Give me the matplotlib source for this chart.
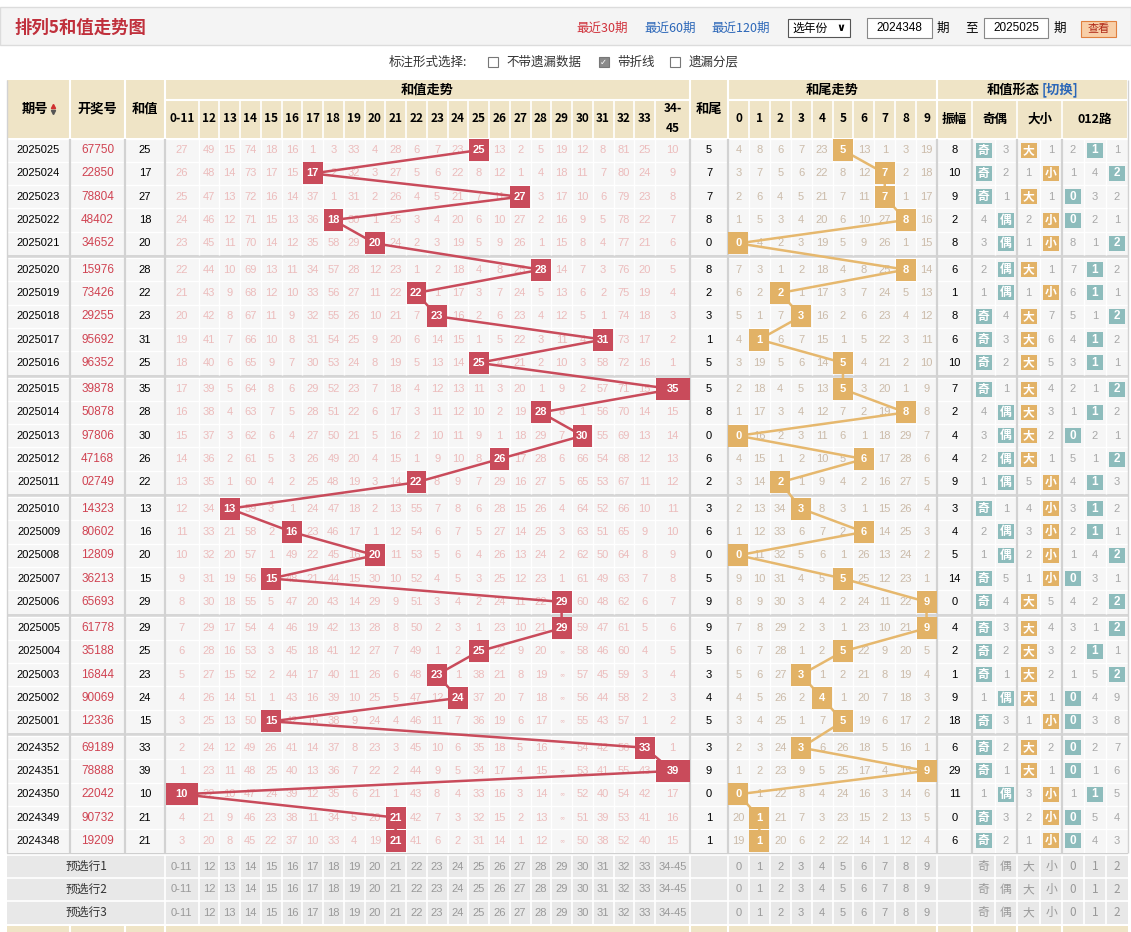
import matplotlib.pyplot as plt
from matplotlib.patches import Rectangle

plt.rcParams['font.family'] = ['Liberation Sans', 'Noto Sans CJK SC', 'DejaVu Sans']
CJK = ['Noto Sans CJK SC', 'DejaVu Sans']

# ---------------- data (newest first) ----------------
periods = ['2025025', '2025024', '2025023', '2025022', '2025021', '2025020', '2025019', '2025018',
           '2025017', '2025016', '2025015', '2025014', '2025013', '2025012', '2025011', '2025010',
           '2025009', '2025008', '2025007', '2025006', '2025005', '2025004', '2025003', '2025002',
           '2025001', '2024352', '2024351', '2024350', '2024349', '2024348']
numbers = ['67750', '22850', '78804', '48402', '34652', '15976', '73426', '29255', '95692', '96352',
           '39878', '50878', '97806', '47168', '02749', '14323', '80602', '12809', '36213', '65693',
           '61778', '35188', '16844', '90069', '12336', '69189', '78888', '22042', '90732', '19209']
sums = [25, 17, 27, 18, 20, 28, 22, 23, 31, 25, 35, 28, 30, 26, 22,
        13, 16, 20, 15, 29, 29, 25, 23, 24, 15, 33, 39, 10, 21, 21]
tails = [5, 7, 7, 8, 0, 8, 2, 3, 1, 5, 5, 8, 0, 6, 2,
         3, 6, 0, 5, 9, 9, 5, 3, 4, 5, 3, 9, 0, 1, 1]

sum_labels = ['0-11', '12', '13', '14', '15', '16', '17', '18', '19', '20', '21', '22', '23',
              '24', '25', '26', '27', '28', '29', '30', '31', '32', '33', '34-45']
tail_labels = ['0', '1', '2', '3', '4', '5', '6', '7', '8', '9']

# H = hit cell, - = overflow mark
sum_miss = [
    "27 49 15 74 18 16 1 3 33 4 28 6 7 23 H 13 2 5 19 12 8 81 25 10",
    "26 48 14 73 17 15 H 2 32 3 27 5 6 22 8 12 1 4 18 11 7 80 24 9",
    "25 47 13 72 16 14 37 1 31 2 26 4 5 21 7 11 H 3 17 10 6 79 23 8",
    "24 46 12 71 15 13 36 H 30 1 25 3 4 20 6 10 27 2 16 9 5 78 22 7",
    "23 45 11 70 14 12 35 58 29 H 24 2 3 19 5 9 26 1 15 8 4 77 21 6",
    "22 44 10 69 13 11 34 57 28 12 23 1 2 18 4 8 25 H 14 7 3 76 20 5",
    "21 43 9 68 12 10 33 56 27 11 22 H 1 17 3 7 24 5 13 6 2 75 19 4",
    "20 42 8 67 11 9 32 55 26 10 21 7 H 16 2 6 23 4 12 5 1 74 18 3",
    "19 41 7 66 10 8 31 54 25 9 20 6 14 15 1 5 22 3 11 4 H 73 17 2",
    "18 40 6 65 9 7 30 53 24 8 19 5 13 14 H 4 21 2 10 3 58 72 16 1",
    "17 39 5 64 8 6 29 52 23 7 18 4 12 13 11 3 20 1 9 2 57 71 15 H",
    "16 38 4 63 7 5 28 51 22 6 17 3 11 12 10 2 19 H 8 1 56 70 14 15",
    "15 37 3 62 6 4 27 50 21 5 16 2 10 11 9 1 18 29 7 H 55 69 13 14",
    "14 36 2 61 5 3 26 49 20 4 15 1 9 10 8 H 17 28 6 66 54 68 12 13",
    "13 35 1 60 4 2 25 48 19 3 14 H 8 9 7 29 16 27 5 65 53 67 11 12",
    "12 34 H 59 3 1 24 47 18 2 13 55 7 8 6 28 15 26 4 64 52 66 10 11",
    "11 33 21 58 2 H 23 46 17 1 12 54 6 7 5 27 14 25 3 63 51 65 9 10",
    "10 32 20 57 1 49 22 45 16 H 11 53 5 6 4 26 13 24 2 62 50 64 8 9",
    "9 31 19 56 H 48 21 44 15 30 10 52 4 5 3 25 12 23 1 61 49 63 7 8",
    "8 30 18 55 5 47 20 43 14 29 9 51 3 4 2 24 11 22 H 60 48 62 6 7",
    "7 29 17 54 4 46 19 42 13 28 8 50 2 3 1 23 10 21 H 59 47 61 5 6",
    "6 28 16 53 3 45 18 41 12 27 7 49 1 2 H 22 9 20 - 58 46 60 4 5",
    "5 27 15 52 2 44 17 40 11 26 6 48 H 1 38 21 8 19 - 57 45 59 3 4",
    "4 26 14 51 1 43 16 39 10 25 5 47 12 H 37 20 7 18 - 56 44 58 2 3",
    "3 25 13 50 H 42 15 38 9 24 4 46 11 7 36 19 6 17 - 55 43 57 1 2",
    "2 24 12 49 26 41 14 37 8 23 3 45 10 6 35 18 5 16 - 54 42 56 H 1",
    "1 23 11 48 25 40 13 36 7 22 2 44 9 5 34 17 4 15 - 53 41 55 43 H",
    "H 22 10 47 24 39 12 35 6 21 1 43 8 4 33 16 3 14 - 52 40 54 42 17",
    "4 21 9 46 23 38 11 34 5 20 H 42 7 3 32 15 2 13 - 51 39 53 41 16",
    "3 20 8 45 22 37 10 33 4 19 H 41 6 2 31 14 1 12 - 50 38 52 40 15",
]
tail_miss = [
    "4 8 6 7 23 H 13 1 3 19", "3 7 5 6 22 8 12 H 2 18", "2 6 4 5 21 7 11 H 1 17",
    "1 5 3 4 20 6 10 27 H 16", "H 4 2 3 19 5 9 26 1 15", "7 3 1 2 18 4 8 25 H 14",
    "6 2 H 1 17 3 7 24 5 13", "5 1 7 H 16 2 6 23 4 12", "4 H 6 7 15 1 5 22 3 11",
    "3 19 5 6 14 H 4 21 2 10", "2 18 4 5 13 H 3 20 1 9", "1 17 3 4 12 7 2 19 H 8",
    "H 16 2 3 11 6 1 18 29 7", "4 15 1 2 10 5 H 17 28 6", "3 14 H 1 9 4 2 16 27 5",
    "2 13 34 H 8 3 1 15 26 4", "1 12 33 6 7 2 H 14 25 3", "H 11 32 5 6 1 26 13 24 2",
    "9 10 31 4 5 H 25 12 23 1", "8 9 30 3 4 2 24 11 22 H", "7 8 29 2 3 1 23 10 21 H",
    "6 7 28 1 2 H 22 9 20 5", "5 6 27 H 1 2 21 8 19 4", "4 5 26 2 H 1 20 7 18 3",
    "3 4 25 1 7 H 19 6 17 2", "2 3 24 H 6 26 18 5 16 1", "1 2 23 9 5 25 17 4 15 H",
    "H 1 22 8 4 24 16 3 14 6", "20 H 21 7 3 23 15 2 13 5", "19 H 20 6 2 22 14 1 12 4",
]
amplitude = [8, 10, 9, 2, 8, 6, 1, 8, 6, 10, 7, 2, 4, 4, 9,
             3, 4, 5, 14, 0, 4, 2, 1, 9, 18, 6, 29, 11, 0, 6]
oe_miss = [3, 2, 1, 4, 3, 2, 1, 4, 3, 2, 1, 4, 3, 2, 1,
           1, 2, 1, 5, 4, 3, 2, 1, 1, 3, 2, 1, 1, 3, 2]
bs_miss = [1, 1, 1, 2, 1, 1, 1, 7, 6, 5, 4, 3, 2, 1, 5,
           4, 3, 2, 1, 5, 4, 3, 2, 1, 1, 2, 1, 3, 2, 1]
route_miss = [
    "2 H 1", "1 4 H", "H 3 2", "H 2 1", "8 1 H", "7 H 2", "6 H 1", "5 1 H", "4 H 2", "3 H 1",
    "2 1 H", "1 H 2", "H 2 1", "5 1 H", "4 H 3", "3 H 2", "2 H 1", "1 4 H", "H 3 1", "4 2 H",
    "3 1 H", "2 H 1", "1 5 H", "H 4 9", "H 3 8", "H 2 7", "H 1 6", "1 H 5", "H 5 4", "H 4 3",
]

# ---------------- styling ----------------
RED = '#c94b5b'
ORANGE = '#e2b266'
TEAL = '#8dbcbc'
BEIGE = '#efe4c6'
CELL = '#f6f6f6'
DIV = '#d2d2d2'
PINK = '#ecbcbc'
TAN = '#cbbba9'
GREY = '#a8a8a8'

fig = plt.figure(figsize=(11.31, 9.32), dpi=100)
ax = fig.add_axes([0, 0, 1, 1])
ax.set_xlim(0, 1131)
ax.set_ylim(932, 0)
ax.axis('off')


def txt(x, y, s, size=8, color='black', weight='normal', family=None, z=3, **kw):
    ax.text(x, y, s, ha='center', va='center', fontsize=size, color=color,
            fontweight=weight, family=family, zorder=z, **kw)


def rect(x, y, w, h, fc, ec='none', lw=0, z=1):
    ax.add_patch(Rectangle((x, y), w, h, facecolor=fc, edgecolor=ec, linewidth=lw, zorder=z))


# column geometry
sum_w = [33.5] + [20.75] * 22 + [35]
sum_x = [165.0]
for w in sum_w:
    sum_x.append(sum_x[-1] + w)
sum_c = [(a + b) / 2 for a, b in zip(sum_x[:-1], sum_x[1:])]
tail_x = [728 + 20.9 * k for k in range(11)]
tail_c = [(a + b) / 2 for a, b in zip(tail_x[:-1], tail_x[1:])]
oe_c = [983.5, 1006]
bs_c = [1028.5, 1051]
rt_c = [1073, 1095, 1117]
form_edges = [937, 972, 995, 1017, 1040, 1062, 1084, 1106, 1128]
dividers = [70, 125, 165, 690, 728, 937, 972, 1017, 1062]

RH = 23.3


def rtop(i):
    return 138.5 + i * RH + (i // 5) * 3


n = len(periods)
table_bottom = rtop(n - 1) + RH

# ---------------- top bar ----------------
rect(0, 7, 1131, 38, '#f4f4f4', ec='#dcdcdc', lw=1)
txt(80, 28, '排列5和值走势图', size=12.5, color='#c0303c', weight='bold', family=CJK)
txt(602, 28, '最近30期', size=9, color='#d0303a', family=CJK)
txt(670, 28, '最近60期', size=9, color='#2a66b8', family=CJK)
txt(741, 28, '最近120期', size=9, color='#2a66b8', family=CJK)
rect(788, 19, 62, 18, 'white', ec='#555555', lw=0.8, z=2)
txt(810, 28, '选年份', size=8.5, family=CJK)
txt(841, 28, '∨', size=8, weight='bold', family=['DejaVu Sans'])
rect(867, 18, 65, 20, 'white', ec='#888888', lw=0.8, z=2)
txt(899.5, 28, '2024348', size=8.5)
txt(943, 28, '期', size=9, family=CJK)
txt(972, 28, '至', size=9, family=CJK)
rect(984, 18, 64, 20, 'white', ec='#888888', lw=0.8, z=2)
txt(1016, 28, '2025025', size=8.5)
txt(1060, 28, '期', size=9, family=CJK)
rect(1081, 21, 35, 16, '#f8cfa8', ec='#e0803f', lw=0.8, z=2)
txt(1098.5, 29, '查看', size=8, color='#b02a1a', family=CJK)

# checkbox row
txt(428, 62, '标注形式选择:', size=9, color='#333333', family=CJK)
for cx, label, lx, checked in [(492.5, '不带遗漏数据', 544, False),
                                (603.5, '带折线', 636, True),
                                (674.5, '遗漏分层', 714, False)]:
    rect(cx - 5, 57, 10, 10, '#8a8a8a' if checked else 'white', ec='#777777', lw=0.8, z=2)
    if checked:
        txt(cx, 62, '✓', size=6, color='white', family=['DejaVu Sans'], z=4)
    txt(lx, 62, label, size=9, color='#333333', family=CJK)

# ---------------- table header ----------------
rect(7, 80, 1121, 58, BEIGE)
for x in [70, 125, 165, 690, 728, 937, 1128]:
    ax.vlines(x, 80, 138, colors='white', lw=1.5, zorder=2)
ax.hlines(100, 165, 690, colors='white', lw=1.5, zorder=2)
ax.hlines(100, 728, 1128, colors='white', lw=1.5, zorder=2)
ax.vlines(sum_x[1:-1], 100, 138, colors='white', lw=1.2, zorder=2)
ax.vlines(tail_x[1:-1], 100, 138, colors='white', lw=1.2, zorder=2)
ax.vlines([972, 1017, 1062], 100, 138, colors='white', lw=1.2, zorder=2)

HB = dict(weight='bold', family=CJK)
txt(35, 109, '期号', size=9.5, **HB)
ax.plot([53], [106], marker='^', ms=3, color='#d03030', zorder=4)
ax.plot([53], [111.5], marker='v', ms=3, color='#555555', zorder=4)
txt(97.5, 109, '开奖号', size=9.5, **HB)
txt(145, 109, '和值', size=9.5, **HB)
txt(427, 90, '和值走势', size=9.5, **HB)
txt(709, 109, '和尾', size=9.5, **HB)
txt(832, 90, '和尾走势', size=9.5, **HB)
txt(1013, 90, '和值形态', size=9.5, **HB)
txt(1060, 90, '[切换]', size=9.5, color='#2a66b8', weight='bold', family=CJK)
for k, lab in enumerate(sum_labels):
    if lab == '34-45':
        txt(sum_c[k], 109, '34-', size=8.5, **HB)
        txt(sum_c[k], 129, '45', size=8.5, **HB)
    else:
        txt(sum_c[k], 119, lab, size=8.5, **HB)
for k, lab in enumerate(tail_labels):
    txt(tail_c[k], 119, lab, size=8.5, **HB)
txt(954.5, 119, '振幅', size=9, **HB)
txt(994.5, 119, '奇偶', size=9, **HB)
txt(1039.5, 119, '大小', size=9, **HB)
txt(1095, 119, '012路', size=9, **HB)

# ---------------- data rows ----------------
inner_edges = [70, 125] + sum_x[1:-1] + tail_x[1:-1] + form_edges[1:-1] + [690]
for i in range(n):
    top = rtop(i)
    rect(7, top, 1121, RH, CELL)
    ax.hlines(top, 7, 1128, colors='white', lw=1, zorder=2)
    if i % 5 == 4 and i < n - 1:
        rect(7, top + RH, 1121, 3, '#d6d6d6', z=2)
    ax.vlines(inner_edges, top, top + RH, colors='white', lw=1, zorder=2)
ax.vlines(dividers, 138.5, table_bottom, colors=DIV, lw=1.6, zorder=2)
ax.vlines([7, 1128], 80, table_bottom, colors=DIV, lw=1, zorder=2)
rect(7, table_bottom, 1121, 2.5, '#cfcfcf', z=2)

sum_pts = []
tail_pts = []
for i in range(n):
    yc = rtop(i) + RH / 2
    txt(38.5, yc, periods[i], size=8)
    txt(97.5, yc, numbers[i], size=8.5, color='#d04352')
    txt(145, yc, str(sums[i]), size=8)
    txt(709, yc, str(tails[i]), size=8)
    txt(954.5, yc, str(amplitude[i]), size=8)

    for k, v in enumerate(sum_miss[i].split()):
        if v == 'H':
            bw = sum_w[k] - 1
            rect(sum_c[k] - bw / 2, yc - 11, bw, 22, RED, z=5)
            txt(sum_c[k], yc, str(sums[i]), size=8, color='white', weight='bold', z=6)
            sum_pts.append((sum_c[k], yc))
        elif v == '-':
            txt(sum_c[k], yc, '∞', size=4.5, color=PINK, family=['DejaVu Sans'])
        else:
            txt(sum_c[k], yc, v, size=8, color=PINK)

    for k, v in enumerate(tail_miss[i].split()):
        if v == 'H':
            rect(tail_c[k] - 10, yc - 11, 20, 22, ORANGE, z=5)
            txt(tail_c[k], yc, str(tails[i]), size=8, color='white', weight='bold', z=6)
            tail_pts.append((tail_c[k], yc))
        else:
            txt(tail_c[k], yc, v, size=8, color=TAN)

    # odd / even
    odd = sums[i] % 2 == 1
    hit_x, miss_x = (oe_c[0], oe_c[1]) if odd else (oe_c[1], oe_c[0])
    rect(hit_x - 8, yc - 7.5, 16, 15, TEAL, z=5)
    txt(hit_x, yc, '奇' if odd else '偶', size=8.5, color='white', weight='bold', family=CJK, z=6)
    txt(miss_x, yc, str(oe_miss[i]), size=8, color=GREY)

    # big / small
    big = sums[i] >= 23
    hit_x, miss_x = (bs_c[0], bs_c[1]) if big else (bs_c[1], bs_c[0])
    rect(hit_x - 8, yc - 7.5, 16, 15, ORANGE, z=5)
    txt(hit_x, yc, '大' if big else '小', size=8.5, color='white', weight='bold', family=CJK, z=6)
    txt(miss_x, yc, str(bs_miss[i]), size=8, color=GREY)

    # 012 route
    for k, v in enumerate(route_miss[i].split()):
        if v == 'H':
            rect(rt_c[k] - 8, yc - 7.5, 16, 15, TEAL, z=5)
            txt(rt_c[k], yc, str(k), size=8.5, color='white', weight='bold', z=6)
        else:
            txt(rt_c[k], yc, v, size=8, color=GREY)

ax.plot([p[0] for p in sum_pts], [p[1] for p in sum_pts], color=RED, lw=1.8, zorder=4)
ax.plot([p[0] for p in tail_pts], [p[1] for p in tail_pts], color='#e6b86e', lw=1.8, zorder=4)

# ---------------- footer (预选行) ----------------
foot_top = table_bottom + 2.5
FH = 23
rect(7, foot_top, 1121, FH * 3, '#e8e8e8')
foot_edges = [165] + sum_x[1:-1] + [690, 728] + tail_x[1:-1] + form_edges[:-1]
for r in range(3):
    top = foot_top + r * FH
    yc = top + FH / 2
    ax.hlines(top, 7, 1128, colors='white', lw=1.2, zorder=2)
    ax.vlines(foot_edges, top, top + FH, colors='white', lw=1.2, zorder=2)
    txt(86, yc, '预选行%d' % (r + 1), size=8.5, color='#333333', family=CJK)
    for k, lab in enumerate(sum_labels):
        txt(sum_c[k], yc, lab, size=8, color='#999999')
    for k, lab in enumerate(tail_labels):
        txt(tail_c[k], yc, lab, size=8, color='#999999')
    for x, lab in zip(oe_c + bs_c + rt_c, ['奇', '偶', '大', '小', '0', '1', '2']):
        txt(x, yc, lab, size=8.5, color='#999999', family=CJK)
bottom_band = foot_top + 3 * FH + 2
rect(7, bottom_band, 1121, 932 - bottom_band, BEIGE)
ax.vlines([70, 125, 165, 690, 728, 937, 972, 1017, 1062], bottom_band, 932, colors='white', lw=1.5, zorder=2)

fig.savefig('out.png', dpi=100, facecolor='white')
